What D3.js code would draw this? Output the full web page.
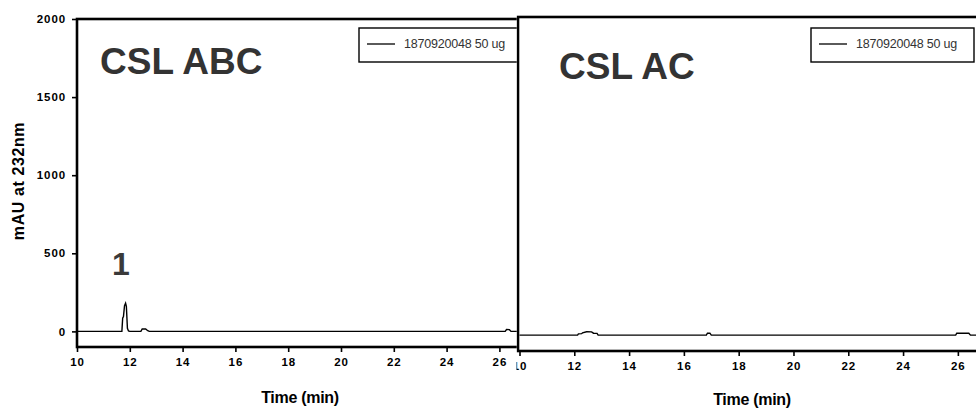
<!DOCTYPE html>
<html><head><meta charset="utf-8">
<script src="https://cdn.jsdelivr.net/npm/d3@7"></script>
<style>body{margin:0;background:#fff}svg{display:block;font-family:'Liberation Sans',Arial,sans-serif}</style>
</head><body><svg id="c" width="976" height="409"></svg>
<script>
// ---- data ----
const xTicks = [10, 12, 14, 16, 18, 20, 22, 24, 26];
const yTicks = [0, 500, 1000, 1500, 2000];
const abcTime   = [10, 11.70, 11.73, 11.76, 11.80, 11.84, 11.87, 11.91, 11.95, 12.0, 12.42, 12.47, 12.60, 12.68, 12.74, 26.22, 26.27, 26.38, 26.44, 27.5];
const abcSignal = [0,  0,     85,    95,    165,   181,   160,   20,    3,     0,    0,     16,    15,    4,     0,     0,     12,    11,    0,     0];
const acTime    = [10, 12.12, 12.15, 12.27, 12.30, 12.45, 12.63, 12.70, 12.83, 12.87, 16.82, 16.86, 16.95, 17.0, 25.92, 25.96, 26.40, 26.46, 27.6];
const acSignal  = [0,  0,     8,     9,     14,    21,    20,    12,    11,    0,     0,     12,    12,    0,    0,     12,    12,    0,     0];
const legendLabel = "1870920048 50 ug";
const panelTitles = ["CSL ABC", "CSL AC"];
const peakTimes = [11.85];
const peakNames = ["1"];
const xTitle = "Time (min)";
const yTitle = "mAU at 232nm";

const svg = d3.select("#c");
const font = "'Liberation Sans',Arial,sans-serif";

// ---- left panel ----
const xL = d3.scaleLinear().domain([10, 27.5]).range([77, 539]);
const yL = d3.scaleLinear().domain([-100, 2000]).range([347, 19]);
const gL = svg.append("g");

const line = (x, y) => d3.line().x((d) => x(d[0])).y((d) => y(d[1]));

gL.append("path")
  .datum(abcTime.map((t, i) => [t, abcSignal[i]]))
  .attr("d", line(xL, yL))
  .attr("fill", "none").attr("stroke", "#000").attr("stroke-width", 1.4);

gL.append("rect").attr("x", 77).attr("y", 19).attr("width", 462).attr("height", 328)
  .attr("fill", "none").attr("stroke", "#000").attr("stroke-width", 2.6);

function styleAxis(g) {
  g.select(".domain").remove();
  g.selectAll(".tick line").attr("stroke", "#000").attr("stroke-width", 1.6);
  g.selectAll(".tick text").attr("font-family", font).attr("font-weight", "bold")
    .attr("font-size", 11.5).attr("letter-spacing", 0.9).attr("fill", "#000");
}

gL.append("g").attr("transform", `translate(0,${yL(-100)})`)
  .call(d3.axisBottom(xL).tickValues(xTicks).tickSize(5).tickPadding(6).tickFormat(d3.format("d")))
  .call(styleAxis);
gL.append("g").attr("transform", `translate(${xL(10)},0)`)
  .call(d3.axisLeft(yL).tickValues(yTicks).tickSize(5).tickPadding(6).tickFormat(d3.format("d")))
  .call(styleAxis);

gL.append("text").attr("x", 100).attr("y", 74).attr("font-size", 37).attr("font-weight", "bold")
  .attr("fill", "#333").text(panelTitles[0]);

peakTimes.forEach((t, i) => {
  gL.append("text").attr("x", xL(t) - 5).attr("y", 275).attr("text-anchor", "middle")
    .attr("font-size", 32).attr("font-weight", "bold").attr("fill", "#3a3a3a").text(peakNames[i]);
});

function legend(g, x0) {
  g.append("rect").attr("x", x0).attr("y", 28).attr("width", 163).attr("height", 34)
    .attr("fill", "#fff").attr("stroke", "#000").attr("stroke-width", 1.4);
  g.append("line").attr("x1", x0 + 8).attr("x2", x0 + 36).attr("y1", 44).attr("y2", 44)
    .attr("stroke", "#000").attr("stroke-width", 1.3);
  g.append("text").attr("x", x0 + 45).attr("y", 48).attr("font-size", 12.5)
    .attr("letter-spacing", -0.2).attr("fill", "#333").text(legendLabel);
}
legend(gL, 359);

gL.append("text").attr("x", 300).attr("y", 403).attr("text-anchor", "middle")
  .attr("font-size", 16).attr("font-weight", "bold").attr("letter-spacing", -0.3).text(xTitle);
gL.append("text").attr("transform", "translate(24,181) rotate(-90)").attr("text-anchor", "middle")
  .attr("font-size", 16).attr("font-weight", "bold").attr("letter-spacing", 0.6).text(yTitle);

// ---- right panel ----
const xR = d3.scaleLinear().domain([10, 27.6]).range([519.5, 1001.7]);
const yR = d3.scaleLinear().domain([-100, 2000]).range([351, 17]);

svg.append("defs").append("clipPath").attr("id", "clipR")
  .append("rect").attr("x", 516.5).attr("y", 0).attr("width", 480).attr("height", 409);

const gR = svg.append("g").attr("clip-path", "url(#clipR)");
gR.append("rect").attr("x", 516.5).attr("y", 0).attr("width", 480).attr("height", 352).attr("fill", "#fff");

gR.append("path")
  .datum(acTime.map((t, i) => [t, acSignal[i]]))
  .attr("d", line(xR, yR))
  .attr("fill", "none").attr("stroke", "#000").attr("stroke-width", 1.4);

gR.append("rect").attr("x", 518).attr("y", 17).attr("width", 500).attr("height", 334)
  .attr("fill", "none").attr("stroke", "#000").attr("stroke-width", 2.6);

gR.append("g").attr("transform", `translate(0,${yR(-100)})`)
  .call(d3.axisBottom(xR).tickValues(xTicks).tickSize(5).tickPadding(6).tickFormat(d3.format("d")))
  .call(styleAxis);

gR.append("text").attr("x", 559).attr("y", 79).attr("font-size", 37).attr("font-weight", "bold")
  .attr("fill", "#333").text(panelTitles[1]);

legend(gR, 811);

gR.append("text").attr("x", 752).attr("y", 405).attr("text-anchor", "middle")
  .attr("font-size", 16).attr("font-weight", "bold").attr("letter-spacing", -0.3).text(xTitle);
</script></body></html>
